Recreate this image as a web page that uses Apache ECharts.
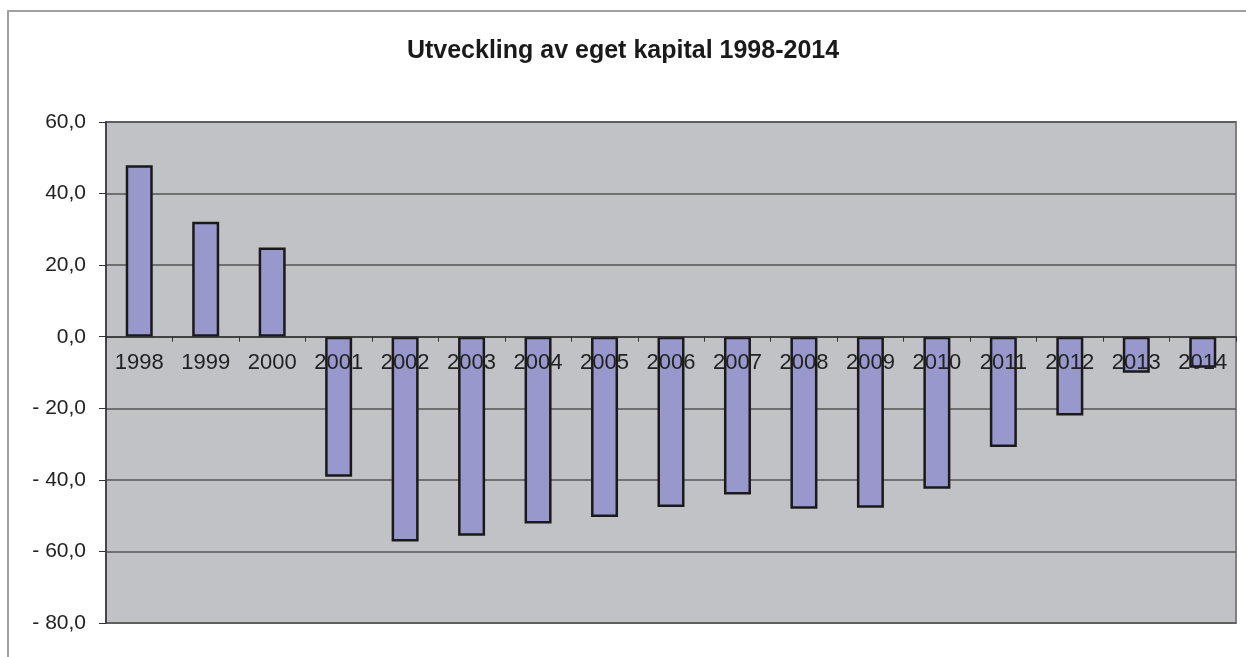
<!DOCTYPE html>
<html>
    <head>
        <meta charset="utf-8">
        <title>Utveckling av eget kapital</title>
        <style>
            body{
                margin:0;
                background-color:#FFFFFF;
            }
            #main{
                position:absolute;
                left:0;
                top:0;
                width:1246px;
                height:657px;
            }
            #frame{
                position:absolute;
                left:7px;
                top:10px;
                width:1239px;
                height:647px;
                border-left:2px solid #a0a0a0;
                border-top:2px solid #a0a0a0;
                pointer-events:none;
            }
        </style>
    </head>
    <body>
        <div id="main"></div>
        <div id="frame"></div>

        <script src="https://cdn.jsdelivr.net/npm/echarts@6/dist/echarts.min.js"></script>
        <script>
            // data
            var years = ["1998","1999","2000","2001","2002","2003","2004","2005","2006",
                         "2007","2008","2009","2010","2011","2012","2013","2014"];
            var values = [47.9, 32.1, 24.9, -39.1, -57.2, -55.6, -52.2, -50.4, -47.6,
                          -44.1, -48.1, -47.8, -42.5, -30.8, -22.0, -10.1, -8.7];
            var yMin = -80, yMax = 60, yStep = 20;

            var gridTop = 122, gridBottom = 34, chartH = 657;
            var plotH = chartH - gridTop - gridBottom;
            // move the category axis (line, ticks, labels) up to the zero line
            var zeroOffset = -plotH * (0 - yMin) / (yMax - yMin);

            function yLabel(v){
                var s = Math.abs(v).toFixed(1).replace('.', ',');
                return v < 0 ? '- ' + s : s;
            }

            var myChart = echarts.init(document.getElementById('main'));

            var option = {
                animation: false,
                textStyle: { fontFamily: 'Liberation Sans, Arial, sans-serif' },
                title: {
                    text: 'Utveckling av eget kapital 1998-2014',
                    left: 'center',
                    top: 34,
                    textStyle: { fontSize: 25, fontWeight: 'bold', color: '#1a1a1a' }
                },
                grid: {
                    left: 106, right: 10, top: gridTop, bottom: gridBottom,
                    show: true,
                    backgroundColor: '#c1c2c6',
                    borderColor: '#808080',
                    borderWidth: 2
                },
                xAxis: {
                    type: 'category',
                    data: years,
                    z: 5,
                    offset: zeroOffset,
                    axisLine: { onZero: false, lineStyle: { color: '#333', width: 1.5 } },
                    axisTick: { show: true, length: 5, inside: false, lineStyle: { color: '#333' } },
                    axisLabel: { fontSize: 22, color: '#222', margin: 15 }
                },
                yAxis: {
                    type: 'value',
                    min: yMin, max: yMax, interval: yStep,
                    axisLine: { show: true, lineStyle: { color: '#333', width: 1.5 } },
                    axisTick: { show: true, length: 7, lineStyle: { color: '#333' } },
                    axisLabel: { fontSize: 21, color: '#222', margin: 20, formatter: yLabel },
                    splitLine: { lineStyle: { color: '#555', width: 1.5 } }
                },
                series: [{
                    type: 'bar',
                    data: values,
                    barWidth: 27,
                    z: 2,
                    itemStyle: { color: '#9898cc', borderColor: '#1a1a1a', borderWidth: 2.5 }
                }]
            };

            myChart.setOption(option);
        </script>
    </body>
</html>
